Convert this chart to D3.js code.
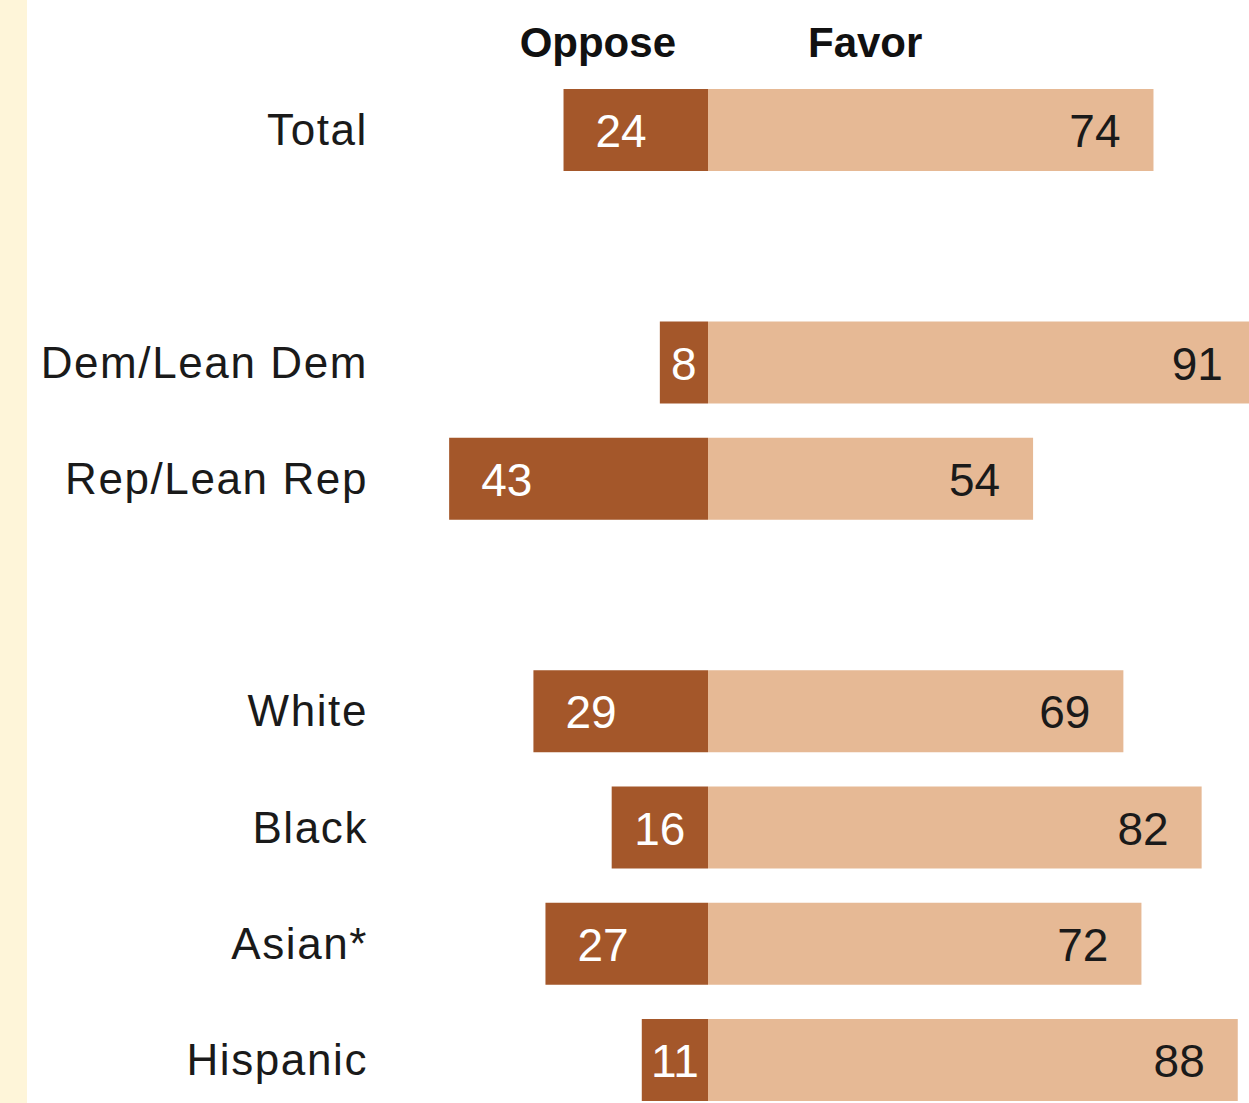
<!DOCTYPE html>
<html>
<head>
<meta charset="utf-8">
<script src="https://cdn.jsdelivr.net/npm/d3@7"></script>
<style>
  html, body { margin: 0; padding: 0; background: #fff; }
  svg { display: block; }
</style>
</head>
<body>
<div id="chart"></div>
<script>
// Oppose / Favor diverging bars

const categories = ["Total", "Dem/Lean Dem", "Rep/Lean Rep", "White", "Black", "Asian*", "Hispanic"];
const oppose = [24, 8, 43, 29, 16, 27, 11];
const favor = [74, 91, 54, 69, 82, 72, 88];
// slots incl. empty spacer rows between groups
const slots = ["Total", "_g1", "Dem/Lean Dem", "Rep/Lean Rep", "_g2", "White", "Black", "Asian*", "Hispanic"];
const headers = ["Oppose", "Favor"];

const W = 1249, H = 1103;
const DARK = "#a4572a", LIGHT = "#e6b995";
const FONT = "'Liberation Sans', Arial, sans-serif";

const svg = d3.select("#chart").append("svg")
  .attr("width", W).attr("height", H);

// pale side strip
svg.append("rect").attr("x", 0).attr("y", 0).attr("width", 27).attr("height", H)
  .attr("fill", "#fef5d9");

const x = d3.scaleLinear().domain([-50, 100]).range([407, 1310]);
const y = d3.scalePoint().domain(slots).range([130, 1060]);
const barH = 82;

const rows = categories.map((c, i) => ({ cat: c, opp: oppose[i], fav: favor[i] }));

// headers
svg.append("text")
  .attr("x", x(0) - 32).attr("y", 57)
  .attr("text-anchor", "end")
  .attr("font-family", FONT).attr("font-weight", "bold").attr("font-size", 42)
  .attr("fill", "#111")
  .text(headers[0]);
svg.append("text")
  .attr("x", x(0) + 100).attr("y", 57)
  .attr("text-anchor", "start")
  .attr("font-family", FONT).attr("font-weight", "bold").attr("font-size", 42)
  .attr("fill", "#111")
  .text(headers[1]);

const g = svg.selectAll("g.row").data(rows).enter().append("g").attr("class", "row");

g.append("rect")
  .attr("x", d => x(-d.opp))
  .attr("y", d => y(d.cat) - barH / 2)
  .attr("width", d => x(0) - x(-d.opp))
  .attr("height", barH)
  .attr("fill", DARK);

g.append("rect")
  .attr("x", x(0))
  .attr("y", d => y(d.cat) - barH / 2)
  .attr("width", d => x(d.fav) - x(0))
  .attr("height", barH)
  .attr("fill", LIGHT);

// category labels
g.append("text")
  .attr("x", 368)
  .attr("y", d => y(d.cat) + 15)
  .attr("text-anchor", "end")
  .attr("font-family", FONT).attr("font-size", 44)
  .attr("letter-spacing", 1.6)
  .attr("fill", "#1a1a1a")
  .text(d => d.cat);

// oppose values (white, inside dark bar)
g.append("text")
  .attr("y", d => y(d.cat) + 17)
  .attr("font-family", FONT).attr("font-size", 46)
  .attr("fill", "#fff")
  .text(d => d.opp)
  .each(function(d) {
    const tw = this.getComputedTextLength();
    const bw = x(0) - x(-d.opp);
    d3.select(this).attr("x", x(-d.opp) + Math.min(32, (bw - tw) / 2));
  });

// favor values
g.append("text")
  .attr("x", d => x(d.fav) - 33)
  .attr("y", d => y(d.cat) + 17)
  .attr("text-anchor", "end")
  .attr("font-family", FONT).attr("font-size", 46)
  .attr("fill", "#1a1a1a")
  .text(d => d.fav);
</script>
</body>
</html>
